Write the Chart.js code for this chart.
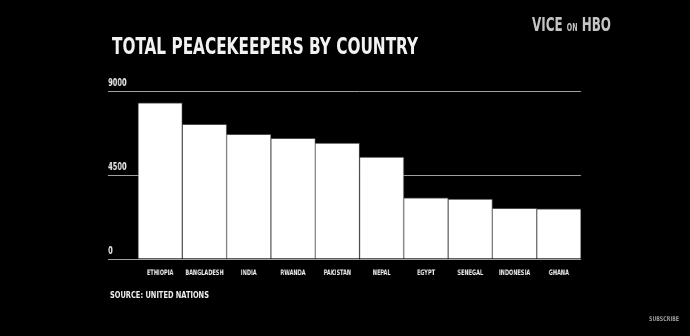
<!DOCTYPE html>
<html>
<head>
<meta charset="utf-8">
<script src="https://cdn.jsdelivr.net/npm/chart.js@4"></script>
<style>
  html, body { margin: 0; padding: 0; background: #000; }
  #wrap { position: relative; width: 690px; height: 336px; overflow: hidden; background: #000; }
  #caixa { position: absolute; left: 0; top: 0; transform-origin: 0 0; }
  .txt { position: absolute; white-space: nowrap; transform-origin: 0 0; font-family: "DejaVu Sans Condensed", "DejaVu Sans", sans-serif; font-weight: bold; }
  #titulo { left: 112px; top: 33px; font-size: 23px; color: #f2f2f2; }
  #fonte { left: 110px; top: 289px; font-size: 9.5px; color: #eee; }
  #logo { left: 532px; top: 13px; font-size: 19px; color: #c4c4c4; }
  #logo small { font-size: 10px; }
  #inscrever { left: 649px; top: 315px; font-size: 6.5px; color: #999; }
</style>
</head>
<body>
<div id="wrap">
  <div id="caixa"><canvas id="grafico"></canvas></div>
  <div class="txt" id="titulo" data-w="306">TOTAL PEACEKEEPERS BY COUNTRY</div>
  <div class="txt" id="fonte" data-w="99">SOURCE: UNITED NATIONS</div>
  <div class="txt" id="logo" data-w="79">VICE <small>ON</small> HBO</div>
  <div class="txt" id="inscrever" data-w="30">SUBSCRIBE</div>
</div>
<script>
// dados
const paises = ['ETHIOPIA', 'BANGLADESH', 'INDIA', 'RWANDA', 'PAKISTAN', 'NEPAL', 'EGYPT', 'SENEGAL', 'INDONESIA', 'GHANA'];
const tropas = [8370, 7220, 6680, 6470, 6210, 5460, 3280, 3210, 2710, 2690];
const ticksY = [0, 4500, 9000];

const fonteEstreita = '"DejaVu Sans Condensed", "DejaVu Sans", sans-serif';

// ajusta largura dos textos html
document.querySelectorAll('.txt').forEach(el => {
    const alvo = Number(el.dataset.w);
    const w = el.getBoundingClientRect().width;
    if (w > 0) el.style.transform = 'scaleX(' + (alvo / w) + ')';
});

// o canvas e desenhado mais largo e comprimido na horizontal (fonte estreita)
const K = 0.74;
const W = Math.round(690 / K);
const canvas = document.getElementById('grafico');
canvas.width = W;
canvas.height = 336;
document.getElementById('caixa').style.transform = 'scaleX(' + (690 / W) + ')';
const k = 690 / W;

new Chart(canvas, {
    type: 'bar',
    data: {
        labels: paises,
        datasets: [{
            data: tropas,
            backgroundColor: '#ffffff',
            borderColor: '#4a4a4a',
            borderWidth: 1,
            barPercentage: 1,
            categoryPercentage: 1
        }]
    },
    options: {
        responsive: false,
        animation: false,
        layout: { padding: { left: 108 / k, top: 91, right: W - 581 / k, bottom: 56 } },
        plugins: { legend: { display: false }, tooltip: { enabled: false } },
        scales: {
            x: {
                grid: { display: false },
                border: { display: false },
                ticks: {
                    color: '#f0f0f0',
                    font: { family: fonteEstreita, size: 7.5, weight: 'bold' },
                    padding: 2,
                    maxRotation: 0,
                    autoSkip: false
                }
            },
            y: {
                min: 0,
                max: 9000,
                afterBuildTicks: s => { s.ticks = ticksY.map(v => ({ value: v })); },
                afterFit: s => { s.width = 30 / k; },
                border: { display: false },
                grid: {
                    color: '#a0a0a0',
                    lineWidth: 1,
                    drawTicks: true,
                    tickLength: 30 / k,
                    tickColor: '#a0a0a0'
                },
                ticks: {
                    color: '#e8e8e8',
                    font: { family: fonteEstreita, size: 10, weight: 'bold' },
                    crossAlign: 'far',
                    labelOffset: -8,
                    padding: 0,
                    callback: v => String(v)
                }
            }
        }
    }
});
</script>
</body>
</html>
